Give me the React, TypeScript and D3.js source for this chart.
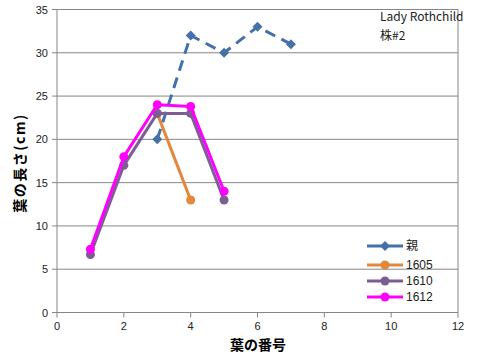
import React from "react";
import * as d3 from "d3";

const seriesNames = ["親", "1605", "1610", "1612"];
const seriesColors = ["#4471A8", "#E2873C", "#7D5E94", "#FF00FF"];
const oyaX = [3, 4, 5, 6, 7];
const oyaY = [20, 32, 30, 33, 31];
const s1605X = [3, 4];
const s1605Y = [23, 13];
const s1610X = [1, 2, 3, 4, 5];
const s1610Y = [6.7, 17, 23, 23, 13];
const s1612X = [1, 2, 3, 4, 5];
const s1612Y = [7.3, 18, 24, 23.8, 14];
const xTicks = [0, 2, 4, 6, 8, 10, 12];
const yTicks = [0, 5, 10, 15, 20, 25, 30, 35];
const titleLines = ["Lady Rothchild", "株#2"];
const xTitle = "葉の番号";
const yTitle = "葉の長さ(cm)";

export default function App() {
  const W = 477, H = 355;
  const x = d3.scaleLinear().domain([0, 12]).range([57, 458]);
  const y = d3.scaleLinear().domain([0, 35]).range([312.5, 9.5]);
  const data = [
    oyaX.map((v, i) => [v, oyaY[i]]),
    s1605X.map((v, i) => [v, s1605Y[i]]),
    s1610X.map((v, i) => [v, s1610Y[i]]),
    s1612X.map((v, i) => [v, s1612Y[i]]),
  ];
  const line = d3.line<number[]>().x(d => x(d[0])).y(d => y(d[1]));
  const font = "'Liberation Sans', Arial, sans-serif";
  const cjk = "'Noto Sans CJK JP', sans-serif";
  const diamond = (cx: number, cy: number, r: number) =>
    `M${cx},${cy - r}L${cx + r},${cy}L${cx},${cy + r}L${cx - r},${cy}Z`;
  const legendY = [246, 265, 281, 297];
  return (
    <svg width={W} height={H} style={{ position: "absolute", left: 0, top: 0 }} fontFamily={font}>
      <rect width={W} height={H} fill="#fff" />
      {yTicks.map(t => (
        <line key={"g" + t} x1={57} x2={458} y1={y(t)} y2={y(t)} stroke="#868686" strokeWidth={1} />
      ))}
      <line x1={458} x2={458} y1={y(35)} y2={y(0)} stroke="#868686" strokeWidth={1} />
      <line x1={57} x2={57} y1={y(35)} y2={y(0)} stroke="#868686" strokeWidth={1} />
      {yTicks.map(t => (
        <line key={"yt" + t} x1={52} x2={57} y1={y(t)} y2={y(t)} stroke="#868686" />
      ))}
      {xTicks.map(t => (
        <line key={"xt" + t} x1={x(t)} x2={x(t)} y1={y(0)} y2={y(0) + 5} stroke="#868686" />
      ))}
      {yTicks.map(t => (
        <text key={"yl" + t} x={48} y={y(t) + 4} textAnchor="end" fontSize={11} fill="#222">{t}</text>
      ))}
      {xTicks.map(t => (
        <text key={"xl" + t} x={x(t)} y={330} textAnchor="middle" fontSize={11} fill="#222">{t}</text>
      ))}
      <text x={258} y={350} textAnchor="middle" fontSize={14} fontWeight="bold" fontFamily={cjk}>{xTitle}</text>
      <text transform={`translate(25,163) rotate(-90)`} textAnchor="middle" fontSize={14} letterSpacing={1.5} fontWeight="bold" fontFamily={cjk}>{yTitle}</text>
      <text x={380} y={21} fontSize={12} fill="#222" fontFamily={cjk}>{titleLines[0]}</text>
      <text x={380} y={40} fontSize={12} fill="#222" fontFamily={cjk}>{titleLines[1]}</text>
      {data.map((pts, si) => (
        <g key={"s" + si}>
          <path d={line(pts) || ""} fill="none" stroke={seriesColors[si]} strokeWidth={3}
            strokeDasharray={si === 0 ? "11,7" : undefined} strokeLinejoin="round" />
          {pts.map((p, i) => si === 0 ? (
            <path key={i} d={diamond(x(p[0]), y(p[1]), 5)} fill={seriesColors[si]} />
          ) : (
            <circle key={i} cx={x(p[0])} cy={y(p[1])} r={4.5} fill={seriesColors[si]} />
          ))}
        </g>
      ))}
      {seriesNames.map((n, i) => (
        <g key={"lg" + i}>
          <line x1={367} x2={403} y1={legendY[i]} y2={legendY[i]} stroke={seriesColors[i]} strokeWidth={3} />
          {i === 0 ? (
            <path d={diamond(385, legendY[i], 5)} fill={seriesColors[i]} />
          ) : (
            <circle cx={385} cy={legendY[i]} r={4.5} fill={seriesColors[i]} />
          )}
          <text x={406} y={legendY[i] + 4} fontSize={12} fill="#222"
            fontFamily={i === 0 ? cjk : font}>{n}</text>
        </g>
      ))}
    </svg>
  );
}
